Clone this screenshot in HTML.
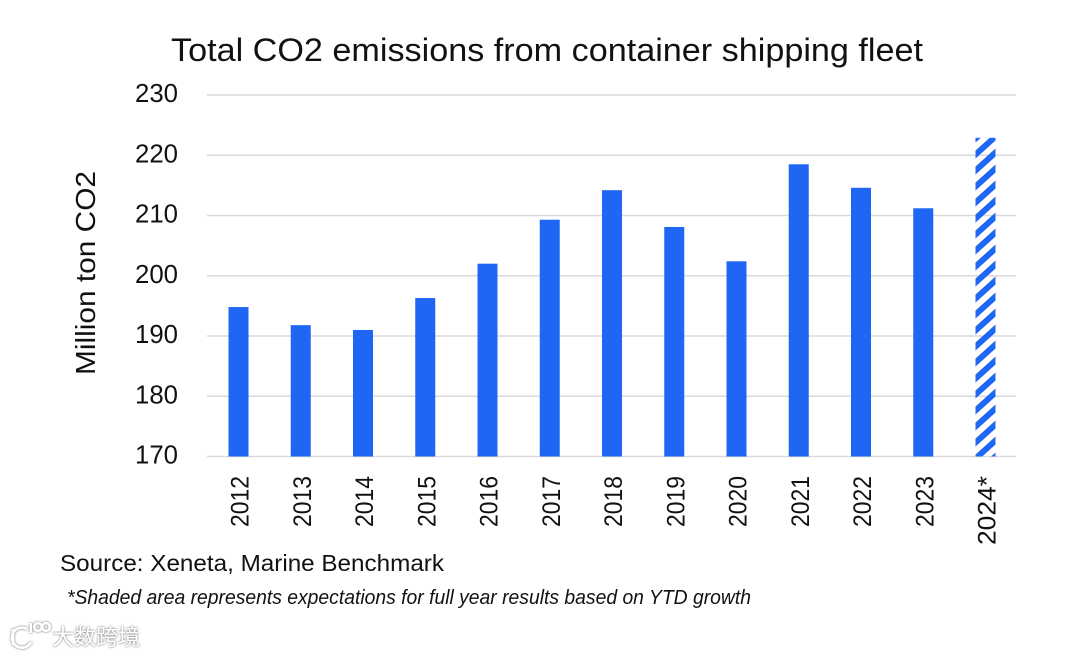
<!DOCTYPE html>
<html lang="en">
<head>
<meta charset="utf-8">
<title>Total CO2 emissions from container shipping fleet</title>
<style>
html,body{margin:0;padding:0;background:#fff;}
svg{display:block;font-family:"Liberation Sans",sans-serif;}
</style>
</head>
<body>
<svg id="chart" width="1080" height="656" viewBox="0 0 1080 656" xmlns="http://www.w3.org/2000/svg">
  <defs>
    <pattern id="hatch" patternUnits="userSpaceOnUse" width="10" height="11.89" patternTransform="translate(975 135) rotate(-42)">
      <rect x="0" y="0" width="10" height="5.95" fill="#1f66f5"></rect>
    </pattern>
    <filter id="wm-shadow" x="-20%" y="-30%" width="140%" height="160%">
      <feDropShadow dx="0" dy="0" stdDeviation="1" flood-color="#555" flood-opacity="1"></feDropShadow>
    </filter>
  </defs>
  <rect width="1080" height="656" fill="#ffffff"></rect>
  <text x="171" y="61" font-size="32" fill="#111" textLength="752" lengthAdjust="spacingAndGlyphs">Total CO2 emissions from container shipping fleet</text>
  <g id="grid"></g>
  <g id="ylabels"></g>
  <g id="bars"></g>
  <g id="xlabels"></g>
  <text transform="translate(95 375) rotate(-90)" font-size="28" fill="#111" textLength="204" lengthAdjust="spacingAndGlyphs">Million ton CO2</text>
  <text x="60" y="571" font-size="23" fill="#111" textLength="384" lengthAdjust="spacingAndGlyphs">Source: Xeneta, Marine Benchmark</text>
  <text x="67" y="604" font-size="20" font-style="italic" fill="#111" textLength="684" lengthAdjust="spacingAndGlyphs">*Shaded area represents expectations for full year results based on YTD growth</text>
  <g filter="url(#wm-shadow)">
    <g fill="none" stroke="#ffffff" stroke-width="2.6">
      <path d="M13 629 L13 645"></path>
      <path d="M27 629 A10 10 0 1 0 31 642"></path>
      <path d="M31 623 L31 633"></path>
      <circle cx="38" cy="627" r="3.8"></circle>
      <circle cx="46" cy="627" r="3.8"></circle>
    </g>
    <text x="52" y="645" font-size="22" fill="#ffffff" textLength="88" lengthAdjust="spacingAndGlyphs" style="font-family:'Liberation Sans','Noto Sans CJK SC',sans-serif">大数跨境</text>
  </g>
</svg>
<script>
const categories = ['2012','2013','2014','2015','2016','2017','2018','2019','2020','2021','2022','2023','2024*'];
const emissions = [194.8,191.8,191,196.3,202,209.3,214.2,208.1,202.4,218.5,214.6,211.2,222.9];
const projected = [false,false,false,false,false,false,false,false,false,false,false,false,true];
const yTicks = [170,180,190,200,210,220,230];

const NS = 'http://www.w3.org/2000/svg';
const yScale = function (v) { return 456.5 - (v - 170) * (361.5 / 60); };
const xScale = function (i) { return 238.5 + i * 62.25; };
const barWidth = 20;

function make(tag, attrs, parent) {
  const el = document.createElementNS(NS, tag);
  Object.keys(attrs).forEach(function (k) { el.setAttribute(k, attrs[k]); });
  parent.appendChild(el);
  return el;
}

const grid = document.getElementById('grid');
const ylabels = document.getElementById('ylabels');
yTicks.forEach(function (t) {
  const line = make('line', { x1: 207, x2: 1016, y1: yScale(t), y2: yScale(t), stroke: '#d9d9d9', 'stroke-width': 1.6 }, grid);
  
  
  const label = make('text', { x: 178, y: yScale(t) + 7, 'font-size': 26, 'text-anchor': 'end', fill: '#111', textLength: 43, lengthAdjust: 'spacingAndGlyphs' }, ylabels);
  label.textContent = t;
  
  
});

const bars = document.getElementById('bars');
const xlabels = document.getElementById('xlabels');
categories.forEach(function (c, i) {
  const top = yScale(emissions[i]);
  const bar = make('rect', { x: xScale(i) - barWidth / 2, y: top, width: barWidth, height: yScale(170) - top, fill: projected[i] ? 'url(#hatch)' : '#1f66f5' }, bars);
  
  
  const len = c.length > 4 ? 69 : 51;
  const label = make('text', { transform: 'translate(' + (xScale(i) + 10) + ' ' + (476 + len) + ') rotate(-90)', 'font-size': 25, fill: '#111', textLength: len, lengthAdjust: 'spacingAndGlyphs' }, xlabels);
  label.textContent = c;
  
  
});
</script>
</body>
</html>
